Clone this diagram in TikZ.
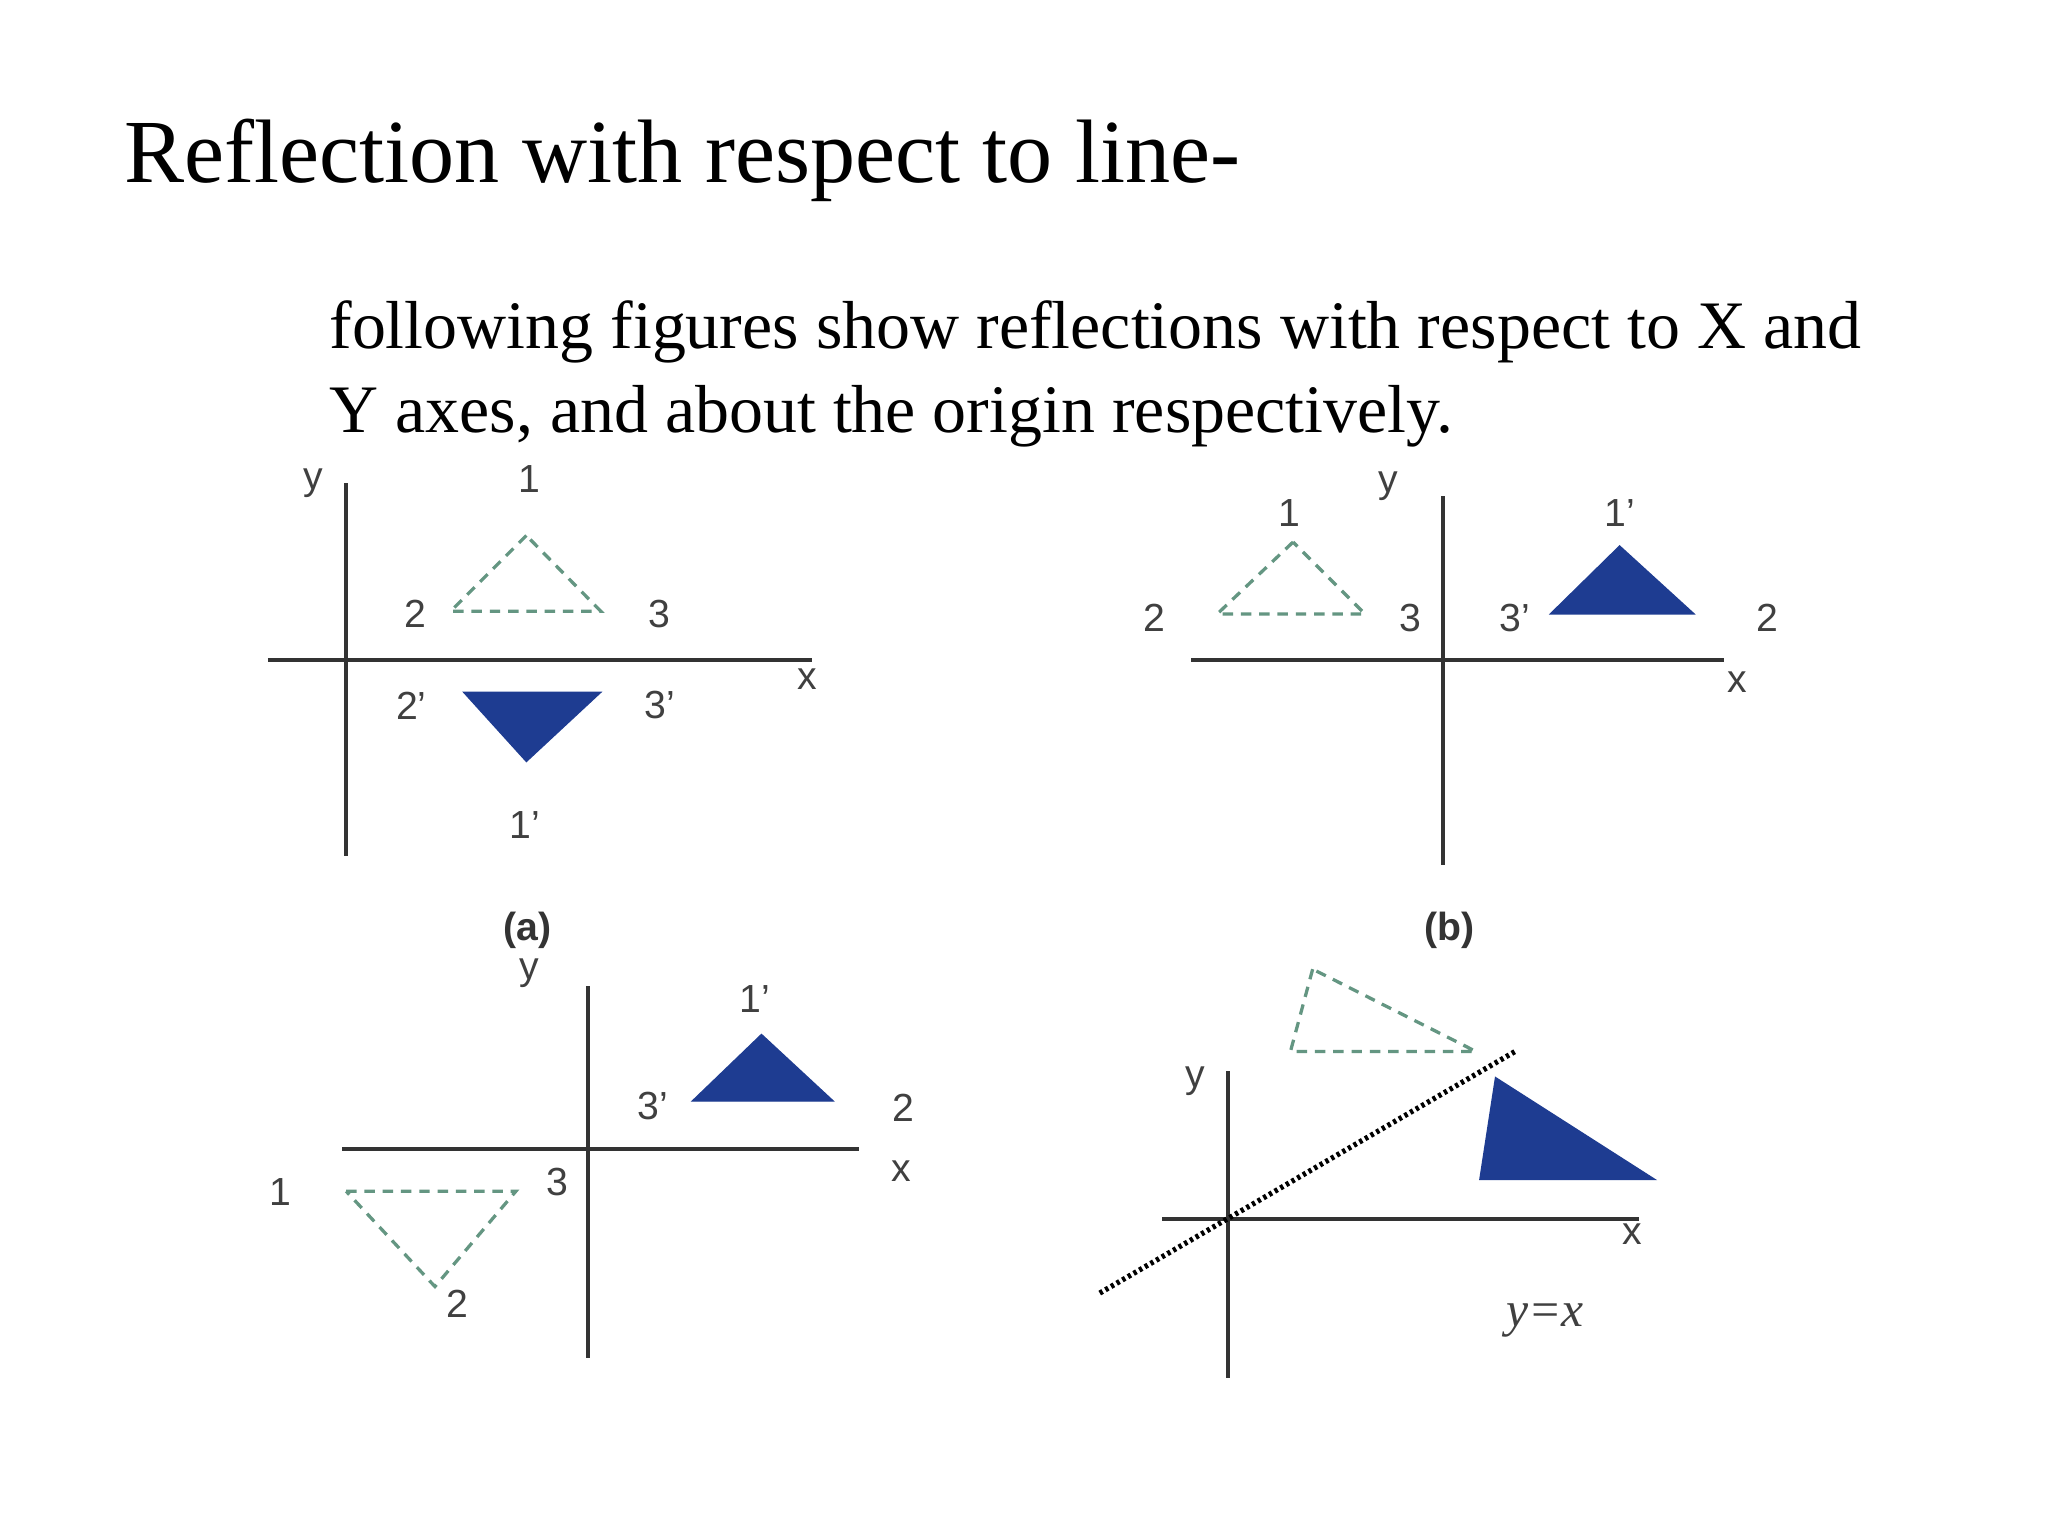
\documentclass[tikz,border=0pt]{standalone}
\usepackage{fontspec}
\setmainfont{Liberation Serif}
\setsansfont{Liberation Sans}
\definecolor{tblue}{RGB}{30,60,145}
\definecolor{dgreen}{RGB}{100,150,130}
\tikzset{ax/.style={line width=3pt,black!80},
dtri/.style={dgreen,dashed,line width=2.5pt,dash pattern=on 8pt off 6pt},
ftri/.style={fill=tblue,draw=tblue,line width=1pt},
lb/.style={font=\sffamily\fontsize{30}{32}\selectfont,text=black!75,inner sep=0pt},
bl/.style={font=\sffamily\bfseries\fontsize{30}{32}\selectfont,text=black!80,inner sep=0pt}}
\begin{document}
\begin{tikzpicture}[x=1pt,y=-1pt]
\useasboundingbox[fill=white] (0,0) rectangle (1568,1176);
\node[anchor=base west,inner sep=0pt,font=\fontsize{69}{72}\selectfont] (title) at (95,140) {Reflection with respect to line-};
\node[anchor=north west,inner sep=0pt,align=left,font=\fontsize{52}{64}\selectfont] (body) at (252,230) {following figures show reflections with respect to X and\\Y axes, and about the origin respectively.};
% (a)
\draw[ax] (265,370) -- (265,655);
\draw[ax] (205,505) -- (622,505);
\draw[dtri] (403,410) -- (345,468) -- (460,468) -- cycle;
\fill[ftri] (355,530) -- (460,530) -- (403,583) -- cycle;
\node[lb] (ay) at (240,370) {y};
\node[lb] (a1) at (405,367) {1};
\node[lb] (a2) at (318,470) {2};
\node[lb] (a3) at (505,470) {3};
\node[lb] (ax) at (618,520) {x};
\node[lb] (a2p) at (315,540) {2'};
\node[lb] (a3p) at (505,540) {3'};
\node[lb] (a1p) at (402,632) {1'};
\node[bl] (la) at (404,712) {(a)};
% (b)
\draw[ax] (1105,380) -- (1105,662);
\draw[ax] (912,505) -- (1320,505);
\draw[dtri] (990,415) -- (932,470) -- (1045,470) -- cycle;
\fill[ftri] (1187,470) -- (1240,418) -- (1297,470) -- cycle;
\node[lb] (b1) at (987,393) {1};
\node[lb] (by) at (1063,372) {y};
\node[lb] (b2) at (884,473) {2};
\node[lb] (b3) at (1080,473) {3};
\node[lb] (b3p) at (1160,473) {3'};
\node[lb] (b1p) at (1240,393) {1'};
\node[lb] (b2p) at (1353,473) {2};
\node[lb] (bx) at (1330,522) {x};
\node[bl] (lbb) at (1110,712) {(b)};
% (c)
\draw[ax] (450,755) -- (450,1040);
\draw[ax] (262,880) -- (658,880);
\fill[ftri] (530,843) -- (583,792) -- (638,843) -- cycle;
\draw[dtri] (265,912) -- (395,912) -- (333,985) -- cycle;
\node[lb] (cy) at (405,745) {y};
\node[lb] (c1p) at (578,765) {1'};
\node[lb] (c3p) at (500,847) {3'};
\node[lb] (c2p) at (692,848) {2};
\node[lb] (cx) at (690,897) {x};
\node[lb] (c1) at (215,913) {1};
\node[lb] (c3) at (427,905) {3};
\node[lb] (c2) at (350,998) {2};
% (d)
\draw[ax] (940,820) -- (940,1055);
\draw[ax] (890,933) -- (1255,933);
\coordinate (d0) at (842,990);
\coordinate (d1) at (1160,805);
\draw[black,line width=4pt,dash pattern=on 2.5pt off 2.5pt] (d0) -- (d1);
\draw[dtri] (1005,742) -- (988,805) -- (1130,805) -- cycle;
\fill[ftri] (1145,825) -- (1133,903) -- (1267,903) -- cycle;
\node[lb] (dy) at (915,828) {y};
\node[lb] (dx) at (1250,945) {x};
\node[inner sep=0pt,text=black!75,font=\itshape\fontsize{38}{38}\selectfont] (dl) at (1183,1011) {y=x};
\end{tikzpicture}
\end{document}
